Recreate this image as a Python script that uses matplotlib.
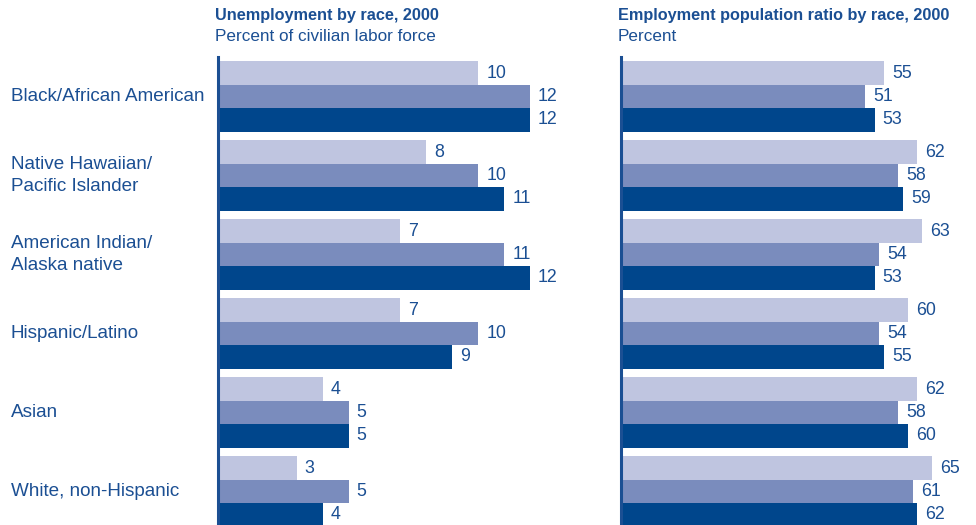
import matplotlib.pyplot as plt

plt.rcParams['font.family'] = ['Liberation Sans', 'DejaVu Sans']

groups = ['Black/African American', 'Native Hawaiian/\nPacific Islander',
          'American Indian/\nAlaska native', 'Hispanic/Latino', 'Asian',
          'White, non-Hispanic']
# three bars per group, top to bottom
unemp_a = [10, 8, 7, 7, 4, 3]
unemp_b = [12, 10, 11, 10, 5, 5]
unemp_c = [12, 11, 12, 9, 5, 4]
emp_a = [55, 62, 63, 60, 62, 65]
emp_b = [51, 58, 54, 54, 58, 61]
emp_c = [53, 59, 53, 55, 60, 62]

colors = ['#bfc5e0', '#7a8cbd', '#00468c']
txt = '#1b4f93'
W, H = 976, 525

fig = plt.figure(figsize=(W / 100, H / 100), dpi=100)

h = 0.297
ytop = -0.5
ybot = ytop + 468 / 79


def panel(x0, xmax, scale, series, title, sub):
    width = xmax * scale
    ax = fig.add_axes([x0 / W, 0, width / W, 468 / H])
    for j, vals in enumerate(series):
        ys = [i + (j - 1) * h for i in range(len(vals))]
        ax.barh(ys, vals, height=h, color=colors[j], left=0)
        for y, v in zip(ys, vals):
            ax.text(v + 8 / scale, y, str(v), va='center', ha='left',
                    fontsize=12.8, color=txt)
    ax.set_xlim(-1 / scale, xmax)
    ax.set_ylim(ybot, ytop)
    for s in ['top', 'right', 'bottom']:
        ax.spines[s].set_visible(False)
    ax.spines['left'].set_color(txt)
    ax.spines['left'].set_linewidth(2.2)
    ax.spines['left'].set_position(('data', -1.2 / scale))
    ax.set_xticks([])
    ax.set_yticks([])
    fig.text((x0 - 3) / W, 1 - 20 / H, title, fontsize=11.7, fontweight='bold',
             color=txt, ha='left', va='baseline')
    fig.text((x0 - 3) / W, 1 - 41 / H, sub, fontsize=12.3,
             color=txt, ha='left', va='baseline')
    return ax


axl = panel(218, 14, 26.0, [unemp_a, unemp_b, unemp_c],
            'Unemployment by race, 2000', 'Percent of civilian labor force')
panel(621, 70, 4.78, [emp_a, emp_b, emp_c],
      'Employment population ratio by race, 2000', 'Percent')

for i, g in enumerate(groups):
    axl.text(-209 / 26.0, i, g, ha='left', va='center', fontsize=13.6,
             color=txt, linespacing=1.4)

fig.savefig('out.png', dpi=100)
